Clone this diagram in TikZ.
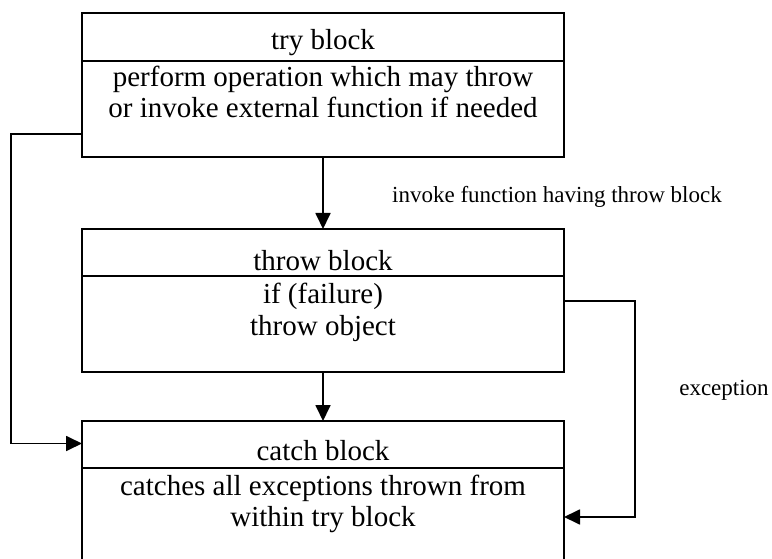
\documentclass[tikz,border=0pt]{standalone}
\usepackage{fontspec}
\setmainfont{Liberation Serif}
\usetikzlibrary{arrows.meta}
\begin{document}
\begin{tikzpicture}[x=1pt,y=-1pt,
  blockbox/.style={draw,line width=1.8pt,minimum width=482pt,inner sep=0pt,outer sep=0pt},
  divline/.style={line width=1.6pt},
  txt/.style={anchor=base,inner sep=0pt,font=\fontsize{29}{33}\selectfont},
  lbl/.style={anchor=base,inner sep=0pt,font=\fontsize{23}{27}\selectfont},
  conn/.style={line width=1.8pt,-{Triangle[length=16pt,width=15pt]}}]
\useasboundingbox (0,0) rectangle (772,559);
% boxes
\node[blockbox,minimum height=144pt] (try) at (323,85) {};
\node[blockbox,minimum height=143pt] (throw) at (323,300.5) {};
\node[blockbox,minimum height=150pt] (catch) at (323,496) {};
% dividers
\draw[divline] (try.west |- 0,61) -- (try.east |- 0,61);
\draw[divline] (throw.west |- 0,276) -- (throw.east |- 0,276);
\draw[divline] (catch.west |- 0,468) -- (catch.east |- 0,468);
% texts
\node[txt] (t1) at (323,50) {try block};
\node[txt] (t2) at (323,87) {perform operation which may throw};
\node[txt] (t3) at (323,118) {or invoke external function if needed};
\node[txt] (h1) at (323,270) {throw block};
\node[txt] (h2) at (323,303) {if (failure)};
\node[txt] (h3) at (323,335) {throw object};
\node[txt] (c1) at (323,460) {catch block};
\node[txt] (c2) at (323,495) {catches all exceptions thrown from};
\node[txt] (c3) at (323,526) {within try block};
\node[lbl] (inv) at (557,203) {invoke function having throw block};
\node[lbl] (exc) at (724,395) {exception};
% connectors
\coordinate (l1) at (11,134);
\coordinate (l2) at (11,443.5);
\coordinate (r1) at (635,300.7);
\coordinate (r2) at (635,517);
\draw[conn] (try.south) -- (throw.north);
\draw[conn] (throw.south) -- (catch.north);
\draw[conn] (try.west |- l1) -- (l1) -- (l2) -- (catch.west |- l2);
\draw[conn] (throw.east |- r1) -- (r1) -- (r2) -- (catch.east |- r2);
\end{tikzpicture}
\end{document}
